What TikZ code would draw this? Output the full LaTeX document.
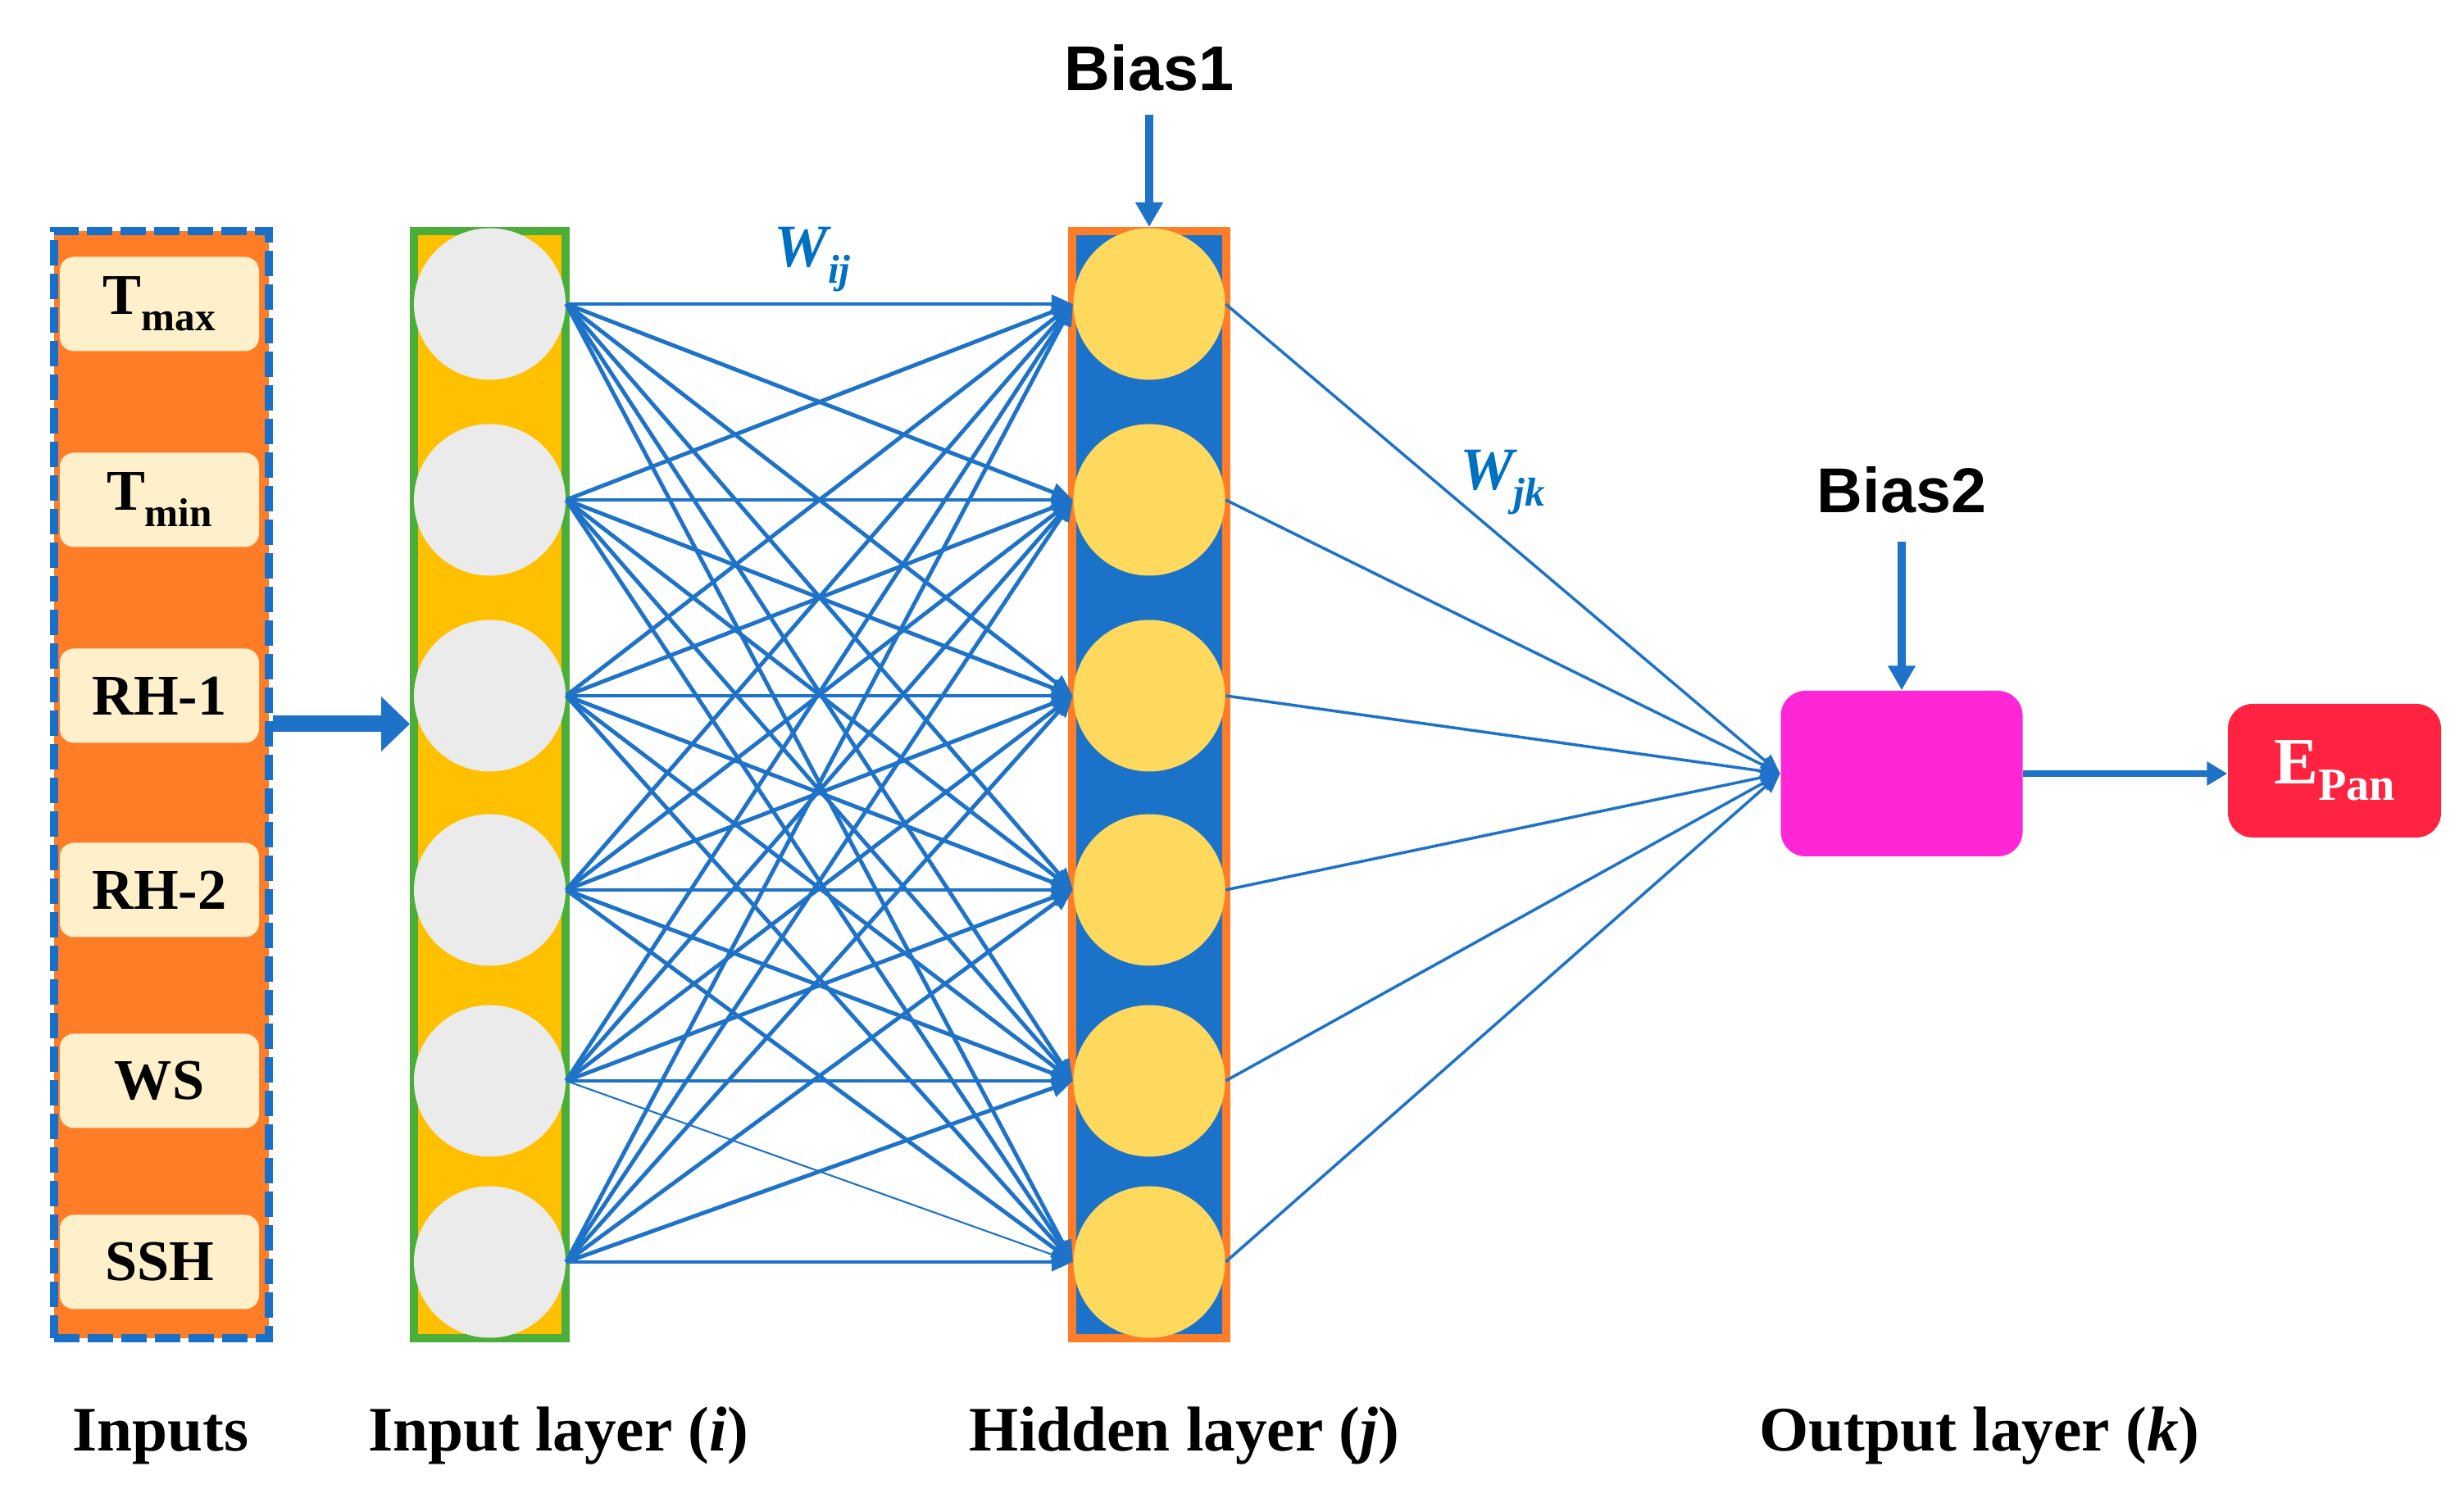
\documentclass[tikz,border=0pt]{standalone}
\usepackage{fontspec}
\setmainfont{Liberation Serif}
\newfontfamily\biasfont{Liberation Sans}
\usepackage{xcolor}
\usepackage{tikz}
\usetikzlibrary{arrows.meta, positioning, calc}
\definecolor{panelorange}{RGB}{255,125,38}
\definecolor{dashblue}{RGB}{24,112,200}
\definecolor{cream}{RGB}{255,240,204}
\definecolor{layergreen}{RGB}{75,174,56}
\definecolor{inyellow}{RGB}{255,192,0}
\definecolor{circgrey}{RGB}{235,235,235}
\definecolor{hidblue}{RGB}{26,115,200}
\definecolor{hidyellow}{RGB}{255,216,94}
\definecolor{linkblue}{RGB}{30,114,200}
\definecolor{wblue}{RGB}{0,112,192}
\definecolor{outpink}{RGB}{255,38,214}
\definecolor{epanred}{RGB}{255,35,65}
\newcommand{\lowtext}[2][14]{\raisebox{-0.2cm}{\fontsize{#1}{#1}\selectfont #2}}
\tikzset{
    inbox/.style={rectangle, rounded corners=0.17cm, minimum width=2.43cm, minimum height=1.15cm,
                  fill=cream, inner sep=0pt, font=\fontsize{20}{24}\selectfont\bfseries},
    layerbox/.style={rectangle, line width=0.1cm, minimum height=13.51cm, inner sep=0pt},
    incirc/.style={circle, minimum size=1.85cm, inner sep=0pt, fill=circgrey},
    hidcirc/.style={incirc, fill=hidyellow},
    link/.style={line width=1.4pt, linkblue, -{Triangle[length=0.26cm, width=0.22cm]}},
    outlink/.style={line width=1pt, linkblue, -{Triangle[length=0.24cm, width=0.2cm]}},
    biasarrow/.style={line width=0.1cm, linkblue, -{Triangle[length=0.3cm, width=0.32cm]}},
    fatarrow/.style={line width=0.2cm, linkblue, -{Triangle[length=0.35cm, width=0.65cm]}},
    outarrow/.style={line width=0.08cm, linkblue, -{Triangle[length=0.25cm, width=0.28cm]}},
    layerlabel/.style={anchor=base, inner sep=0pt, font=\fontsize{22}{26}\selectfont\bfseries},
    biaslabel/.style={anchor=base, inner sep=0pt, font=\biasfont\fontsize{22}{26}\selectfont\bfseries},
    wlabel/.style={inner sep=0pt, text=wblue, font=\fontsize{21}{25}\selectfont\bfseries\itshape}
}

\begin{document}
\begin{tikzpicture}
    \useasboundingbox (0,0) rectangle (30.06,18.17);

    % Inputs
    \node[layerbox, draw=dashblue, fill=panelorange, dash pattern=on 0.31cm off 0.1cm,
          minimum width=2.62cm] (panel) at (1.97,8.595) {};

    % Input layer and hidden layer
    \node[layerbox, draw=layergreen, fill=inyellow, minimum width=1.85cm] (inlay) at (5.975,8.595) {};
    \node[layerbox, draw=panelorange, fill=hidblue, minimum width=1.88cm] (hid) at (14.02,8.595) {};

    \foreach \y/\txt [count=\i] in {14.46/{T\lowtext{max}}, 12.07/{T\lowtext{min}}, 9.68/RH-1,
                                    7.31/RH-2, 4.98/WS, 2.77/SSH} {
        \node[inbox] (x\i) at (1.945,\y) {\txt};
        \node[incirc] (in\i) at (5.975,\y) {};
        \node[hidcirc] (h\i) at (14.02,\y) {};
    }

    % Output
    \node[rectangle, rounded corners=0.3cm, fill=outpink, minimum width=2.95cm,
          minimum height=2.02cm] (out) at (23.2,8.73) {};
    \node[rectangle, rounded corners=0.3cm, fill=epanred, minimum width=2.6cm,
          minimum height=1.63cm, text=white, font=\fontsize{23}{27}\selectfont\bfseries]
          (epan) at (28.48,8.765) {E\lowtext[16]{Pan}};

    % Bias
    \node[biaslabel] (bias1) at (14.02,17.06) {Bias1};
    \node[biaslabel] (bias2) at (23.2,11.91) {Bias2};

    % Weights
    \node[wlabel] (wij) at (9.91,15.0) {W\lowtext{ij}};
    \node[wlabel] (wjk) at (18.33,12.28) {W\lowtext{jk}};

    % Layer labels
    \node[layerlabel] (lblin) at (1.96,0.46) {Inputs};
    \node[layerlabel] (lbllay) at (6.81,0.46) {Input layer (\textit{i})};
    \node[layerlabel] (lblhid) at (14.45,0.46) {Hidden layer (\textit{j})};
    \node[layerlabel] (lblout) at (24.15,0.46) {Output layer (\textit{k})};

    % Arrows
    \draw[fatarrow] ([yshift=0.74cm]panel.east) -- ([yshift=0.74cm]inlay.west);
    \foreach \i in {1,...,6}
        \foreach \j in {1,...,6}
            {\ifnum\i\j=56 \else\draw[link] (in\i.east) -- (h\j.west);\fi}
    \draw[link, line width=0.6pt] (in5.east) -- (h6.west);
    \foreach \j in {1,...,6}
        \draw[outlink] (h\j.east) -- (out.west);
    \draw[biasarrow] ([yshift=-0.29cm]bias1.base) -- (hid.north);
    \draw[biasarrow] ([yshift=-0.35cm]bias2.base) -- (out.north);
    \draw[outarrow] (out.east) -- (epan.west |- out.east);
\end{tikzpicture}
\end{document}
